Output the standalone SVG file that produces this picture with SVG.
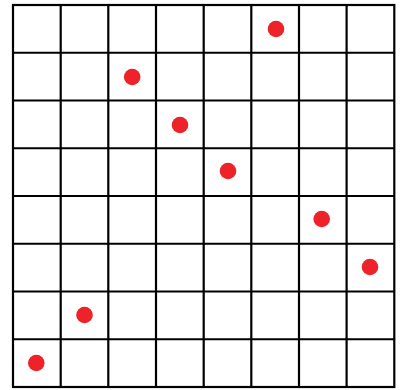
<svg xmlns="http://www.w3.org/2000/svg" width="403" height="390" viewBox="0 0 403 390">
<style>
.g{stroke:#000;stroke-width:2.2;fill:none}
.q{fill:#ee2229}
</style>
<rect width="403" height="390" fill="#fff"/>
<g id="board" class="g">
<rect x="13" y="5" width="381.3" height="382"/>
<path d="M60.7 5V387M108.3 5V387M156 5V387M203.7 5V387M251.3 5V387M299 5V387M346.6 5V387M13 52.75H394.3M13 100.5H394.3M13 148.25H394.3M13 196H394.3M13 243.75H394.3M13 291.5H394.3M13 339.25H394.3"/>
</g>
<g id="queens">
<circle id="q0" class="q" cx="276" cy="29" r="8.3"/>
<circle id="q1" class="q" cx="132.2" cy="77" r="8.3"/>
<circle id="q2" class="q" cx="180" cy="125" r="8.3"/>
<circle id="q3" class="q" cx="228" cy="171" r="8.3"/>
<circle id="q4" class="q" cx="321.7" cy="219" r="8.3"/>
<circle id="q5" class="q" cx="370" cy="267" r="8.3"/>
<circle id="q6" class="q" cx="84.5" cy="315" r="8.3"/>
<circle id="q7" class="q" cx="36.3" cy="363" r="8.3"/>
</g>
</svg>
